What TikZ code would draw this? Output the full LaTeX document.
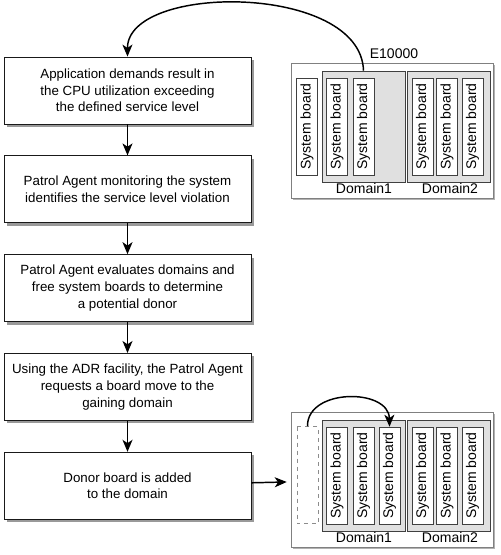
\documentclass[tikz,border=0pt]{standalone}
\usepackage{fontspec}
\setmainfont{Liberation Sans}
\usepackage{xcolor}
\usepackage{tikz}
\usetikzlibrary{positioning, shadows, arrows.meta}

\tikzset{
  flow/.style={draw=black!90, fill=white, line width=0.6pt, align=center,
    minimum width=185.25pt, minimum height=50.25pt,
    font=\fontsize{10}{12.5}\selectfont,
    drop shadow={shadow xshift=2.25pt, shadow yshift=-2.25pt, fill=black!40, opacity=1}},
  panel/.style={draw=black!50, fill=white, thin, minimum width=151.5pt, minimum height=101.25pt,
    drop shadow={shadow xshift=1.5pt, shadow yshift=-1.5pt, fill=black!30, opacity=1}},
  dombox/.style={draw=black!75, fill=black!12, thin, minimum width=62.25pt, minimum height=83.25pt},
  board/.style={draw=black!75, fill=white, thin, rotate=90, inner sep=0pt,
    minimum width=72.75pt, minimum height=15.75pt, font=\fontsize{10.5}{12}\selectfont},
  tag/.style={font=\fontsize{10.5}{12}\selectfont, inner sep=0pt},
  link/.style={-{Stealth[length=9pt, width=7.5pt, inset=2.5pt]}, line width=1.1pt},
}

\begin{document}
\begin{tikzpicture}[x=0.75pt, y=-0.75pt, node distance=23.25pt]
  \useasboundingbox (0,0) rectangle (500,555);

  % steps
  \node[flow] (s1) at (127.5,90.5) {Application demands result in\\the CPU utilization exceeding\\the defined service level};
  \node[flow, below=of s1] (s2) {Patrol Agent monitoring the system\\identifies the service level violation};
  \node[flow, below=of s2] (s3) {Patrol Agent evaluates domains and\\free system boards to determine\\a potential donor};
  \node[flow, below=of s3] (s4) {Using the ADR facility, the Patrol Agent\\requests a board move to the\\gaining domain};
  \node[flow, below=of s4] (s5) {Donor board is added\\to the domain};

  % E10000 before
  \node[panel] (E1) at (392,130.5) {};
  \node[tag] (E1name) at (394,54) {E10000};
  \node[dombox] (d1a) at (363.5,126.5) {};
  \node[dombox] (d2a) at (448.5,126.5) {};
  \node[board] (fa) at (307,126.5) {System board};
  \node[board] (a1) at (337,126.5) {System board};
  \node[board] (a2) at (363.5,126.5) {System board};
  \foreach \x/\n in {422.5/a4, 447/a5, 472.5/a6}
    \node[board] (\n) at (\x,126.5) {System board};
  \node[tag] (l1a) at (364,188) {Domain1};
  \node[tag] (l2a) at (450,188) {Domain2};

  % E10000 after
  \node[panel] (E2) at (392,479.5) {};
  \node[dombox] (d1b) at (363.5,475.5) {};
  \node[dombox] (d2b) at (448.5,475.5) {};
  \node[board, dashed, draw=black!45] (fb) at (307.5,475) {};
  \node[board] (b1) at (337,475.5) {System board};
  \node[board] (b2) at (363.5,475.5) {System board};
  \node[board] (b3) at (389.5,475.5) {System board};
  \foreach \x/\n in {422.5/b4, 447/b5, 472.5/b6}
    \node[board] (\n) at (\x,475.5) {System board};
  \node[tag] (l1b) at (364,537) {Domain1};
  \node[tag] (l2b) at (450,537) {Domain2};
%
  \path[link]
    (s1) edge (s2)
    (s2) edge (s3)
    (s3) edge (s4)
    (s4) edge (s5)
    (s5) edge[shorten >=3pt] (E2);
  \draw[link] (d1a.north) .. controls (361,-17) and (127,-17) .. (s1.north);
  \draw[link] (fb.east) .. controls (307,388) and (389,388) .. (b3.east);

\end{tikzpicture}
\end{document}
